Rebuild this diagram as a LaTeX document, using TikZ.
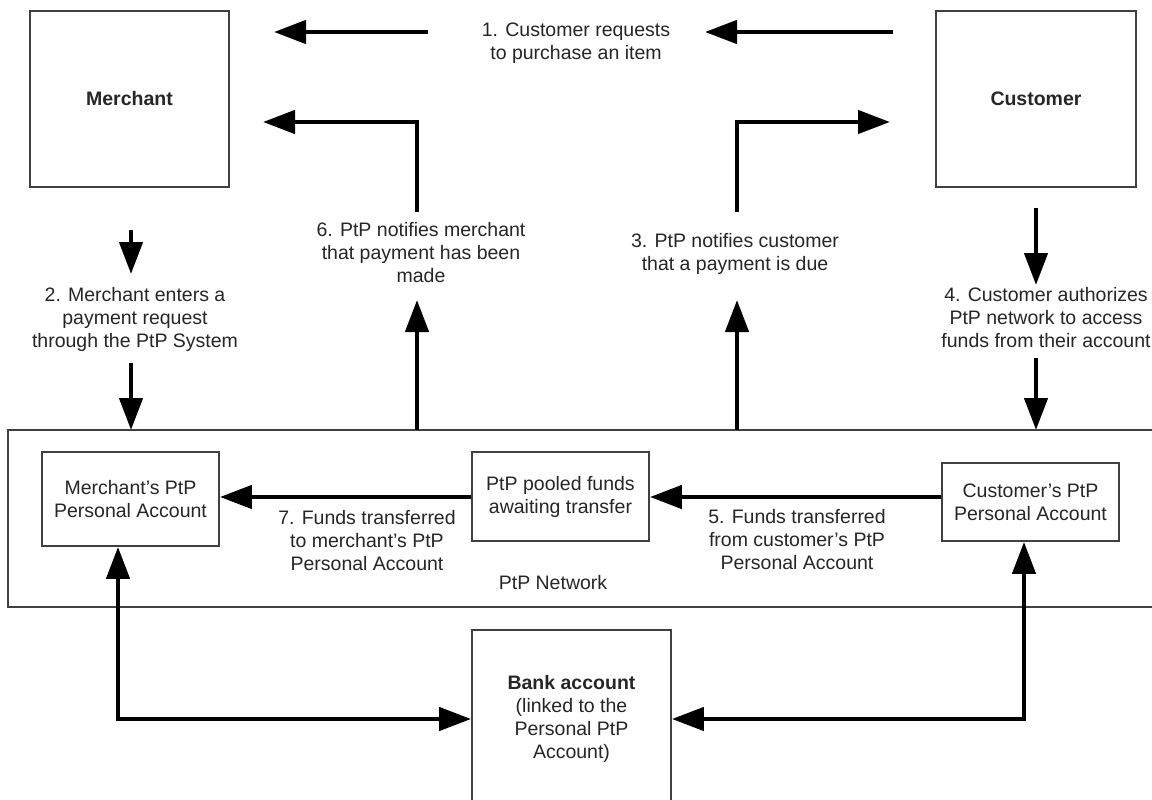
\documentclass[tikz,border=0pt]{standalone}
\usepackage{fontspec}
\setmainfont{Liberation Sans}
\usetikzlibrary{arrows.meta}
\begin{document}
\begin{tikzpicture}[x=1pt,y=-1pt,
  box/.style={draw=black!75, line width=1.8pt, inner sep=0pt, text=black!85,
              font=\fontsize{19.5}{23}\selectfont, align=center},
  lbl/.style={text=black!85, font=\fontsize{19.5}{23}\selectfont, align=center, inner sep=0pt},
  arr/.style={line width=4.5pt, -{Triangle[length=32pt,width=23pt]}},
  arrboth/.style={line width=4.5pt, {Triangle[length=32pt,width=23pt]}-{Triangle[length=32pt,width=23pt]}},
]
\useasboundingbox (0,0) rectangle (1152,800);
\fill[white] (0,0) rectangle (1152,800);
\begin{scope}
\clip (0,0) rectangle (1152,800);
% main boxes
\node[box, minimum width=199pt, minimum height=176pt] (merchant) at (129.5,99) {\textbf{Merchant}};
\node[box, minimum width=200pt, minimum height=176pt] (customer) at (1036,99) {\textbf{Customer}};
\node[box, minimum width=1160pt, minimum height=177pt] (network) at (588,518.5) {};
\node[box, minimum width=177pt, minimum height=94pt] (mpa) at (130.5,499) {Merchant's PtP\\Personal Account};
\node[box, minimum width=177pt, minimum height=89pt] (pool) at (560.5,496.5) {PtP pooled funds\\awaiting transfer};
\node[box, minimum width=177pt, minimum height=78pt] (cpa) at (1030.5,502) {Customer's PtP\\Personal Account};
\node[box, minimum width=199pt, minimum height=178pt] (bank) at (571.5,719) {\textbf{Bank account}\\(linked to the\\Personal PtP\\Account)};
\end{scope}
% labels
\node[lbl] (t1) at (576,43.5) {1. Customer requests\\to purchase an item};
\node[lbl] (t2) at (135,319) {2. Merchant enters a\\payment request\\through the PtP System};
\node[lbl] (t6) at (421,253) {6. PtP notifies merchant\\that payment has been\\made};
\node[lbl] (t3) at (735,254) {3. PtP notifies customer\\that a payment is due};
\node[lbl] (t4) at (1046,318) {4. Customer authorizes\\PtP network to access\\funds from their account};
\node[lbl] (t7) at (367,541) {7. Funds transferred\\to merchant's PtP\\Personal Account};
\node[lbl] (t5) at (797,540) {5. Funds transferred\\from customer's PtP\\Personal Account};
\node[lbl] (netlbl) at (553,583) {PtP Network};
% free connector ends
\coordinate (a1s) at (428,32);  \coordinate (a1e) at (274,32);
\coordinate (b1s) at (893,32);  \coordinate (b1e) at (705,32);
\coordinate (a6s) at (417,430); \coordinate (a6e) at (417,300);
\coordinate (b6s) at (417,212); \coordinate (b6c) at (417,122); \coordinate (b6e) at (263,122);
\coordinate (a3s) at (737,430); \coordinate (a3e) at (737,300);
\coordinate (b3s) at (737,212); \coordinate (b3c) at (737,122); \coordinate (b3e) at (890,122);
\coordinate (a2s) at (131,230); \coordinate (a2e) at (131,274);
\coordinate (b2s) at (131,363); \coordinate (b2e) at (131,430);
\coordinate (a4s) at (1036,208); \coordinate (a4e) at (1036,285);
\coordinate (b4s) at (1036,358); \coordinate (b4e) at (1036,430);
% connectors
\draw[arr] (a1s) -- (a1e);
\draw[arr] (b1s) -- (b1e);
\draw[arr] (a6s) -- (a6e);
\draw[arr] (b6s) -- (b6c) -- (b6e);
\draw[arr] (a3s) -- (a3e);
\draw[arr] (b3s) -- (b3c) -- (b3e);
\draw[arr] (a2s) -- (a2e);
\draw[arr] (b2s) -- (b2e);
\draw[arr] (a4s) -- (a4e);
\draw[arr] (b4s) -- (b4e);
\draw[arr] (pool.west |- 0,497) -- (mpa.east |- 0,497);
\draw[arr] (cpa.west |- 0,497) -- (pool.east |- 0,497);
\draw[arrboth] ([xshift=-12.5pt]mpa.south) |- (bank.west);
\draw[arrboth] ([xshift=-6.5pt]cpa.south) |- (bank.east);
\end{tikzpicture}
\end{document}
